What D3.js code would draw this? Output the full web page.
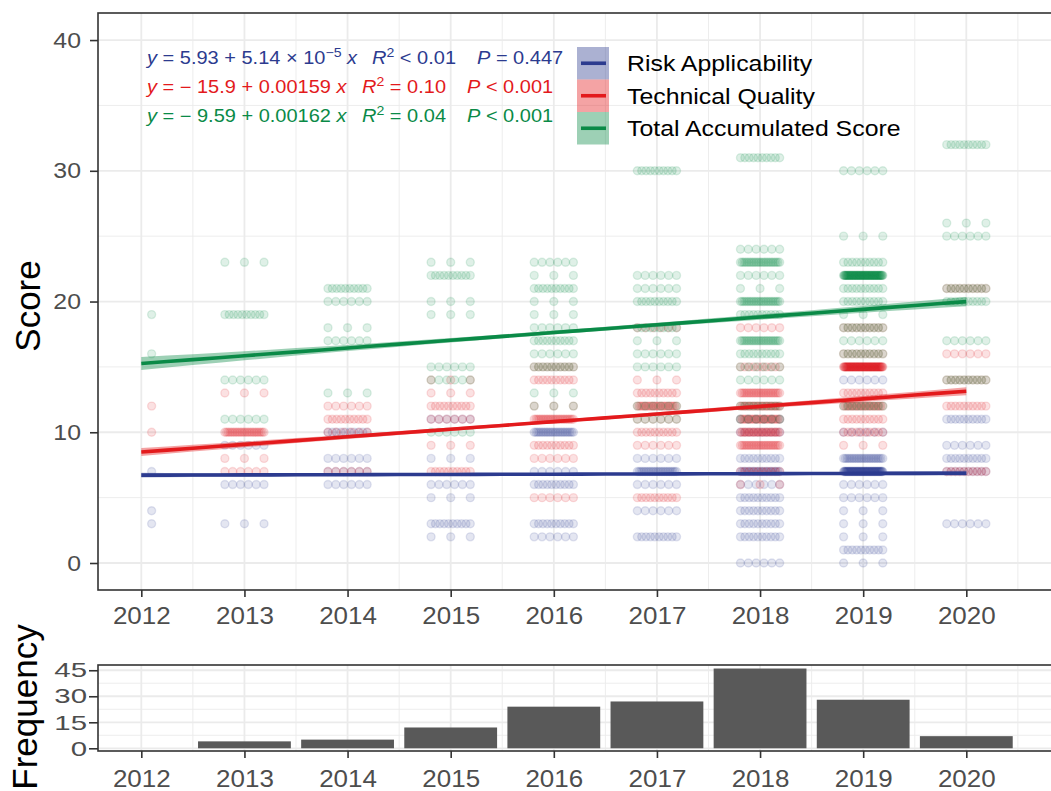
<!DOCTYPE html>
<html><head><meta charset="utf-8">
<script src="https://cdn.jsdelivr.net/npm/d3@7"></script>
<style>
body{margin:0;background:#fff}
text{font-family:"Liberation Sans",Arial,Helvetica,sans-serif}
</style></head>
<body><svg id="c" width="1051" height="791"></svg>
<script>
// ---------------- data ----------------
const years = [2012,2013,2014,2015,2016,2017,2018,2019,2020];
const frequency = [0,4,5,12,24,27,46,28,7];
const scoreTicks = [0,10,20,30,40];
const freqTicks = [0,15,30,45];
const seriesNames = ["Risk Applicability","Technical Quality","Total Accumulated Score"];
const seriesColors = ["#2C3B8F","#E31A1C","#0A8A47"];
const intercepts = [5.93,-15.9,-9.59];
const slopes = [5.14e-5,0.00159,0.00162];   // per day since 1970-01-01
const ribbonHalf = [[0.18,0.07,0.18],[0.3,0.12,0.3],[0.5,0.15,0.35]]; // at 2012, 2016, 2020
const eqIntercept = ["5.93","\u2212 15.9","\u2212 9.59"];
const eqSlope = ["5.14 \u00d7 10","0.00159","0.00162"];
const eqSlopeExp = ["\u22125","",""];
const eqR2 = ["< 0.01","= 0.10","= 0.04"];
const eqP = ["= 0.447","< 0.001","< 0.001"];
// rows of points: [year, score, number of points in the row]
const riskRows = [
 [2012,7,1],[2012,4,1],[2012,3,1],
 [2013,9,6],[2013,6,6],[2013,3,3],
 [2014,10,10],[2014,8,6],[2014,7,6],[2014,6,6],
 [2015,11,6],[2015,8,3],[2015,6,6],[2015,5,3],[2015,3,10],[2015,2,3],
 [2016,10,24],[2016,7,6],[2016,6,10],[2016,3,10],[2016,2,6],
 [2017,8,6],[2017,7,24],[2017,6,6],[2017,4,6],[2017,2,10],
 [2018,11,6],[2018,10,10],[2018,8,10],[2018,7,24],[2018,6,6],[2018,5,10],[2018,4,10],[2018,3,10],[2018,2,10],[2018,0,6],
 [2019,14,6],[2019,10,6],[2019,8,24],[2019,7,70],[2019,6,6],[2019,5,6],[2019,4,3],[2019,3,3],[2019,2,3],[2019,1,10],[2019,0,3],
 [2020,11,10],[2020,9,6],[2020,8,10],[2020,7,10],[2020,3,6]
];
const techRows = [
 [2012,12,1],[2012,10,1],
 [2013,13,3],[2013,10,24],[2013,8,3],[2013,7,6],
 [2014,12,6],[2014,11,10],[2014,10,6],[2014,7,6],
 [2015,14,3],[2015,13,3],[2015,12,10],[2015,11,6],[2015,9,3],[2015,7,10],
 [2016,15,10],[2016,14,10],[2016,12,3],[2016,11,24],[2016,9,10],[2016,8,6],[2016,5,6],
 [2017,18,6],[2017,14,3],[2017,13,10],[2017,12,24],[2017,11,6],[2017,10,10],[2017,9,6],[2017,5,10],
 [2018,18,6],[2018,15,10],[2018,13,24],[2018,12,24],[2018,11,24],[2018,10,24],[2018,9,24],[2018,7,10],[2018,6,3],
 [2019,18,10],[2019,16,10],[2019,15,70],[2019,13,10],[2019,12,24],[2019,11,10],[2019,10,10],[2019,9,3],
 [2020,21,10],[2020,16,6],[2020,14,10],[2020,12,10],[2020,7,10]
];
const totalRows = [
 [2012,19,1],[2012,16,1],
 [2013,23,3],[2013,19,10],[2013,14,6],[2013,11,6],
 [2014,21,10],[2014,20,6],[2014,18,3],[2014,17,6],[2014,13,3],
 [2015,23,3],[2015,22,10],[2015,20,3],[2015,19,3],[2015,15,6],[2015,14,6],[2015,10,6],
 [2016,23,6],[2016,22,3],[2016,21,10],[2016,20,3],[2016,19,3],[2016,18,6],[2016,17,10],[2016,16,6],[2016,15,10],[2016,13,3],[2016,12,3],
 [2017,30,10],[2017,22,6],[2017,21,6],[2017,20,10],[2017,18,10],[2017,17,3],[2017,16,6],[2017,15,6],[2017,12,6],[2017,11,6],
 [2018,31,10],[2018,24,6],[2018,23,24],[2018,22,6],[2018,21,3],[2018,20,24],[2018,19,10],[2018,17,24],[2018,16,10],[2018,15,6],[2018,14,6],[2018,12,10],[2018,11,6],
 [2019,30,6],[2019,25,3],[2019,23,10],[2019,22,70],[2019,21,10],[2019,20,10],[2019,19,3],[2019,18,10],[2019,17,6],[2019,16,10],[2019,12,10],
 [2020,32,10],[2020,26,3],[2020,25,6],[2020,21,10],[2020,20,10],[2020,17,6],[2020,14,10]
];
const allRows = [riskRows, techRows, totalRows];

// ---------------- layout ----------------
const svg = d3.select("#c");
const TX = 1.13; // horizontal text stretch
const left = 98, right = 98 + 9.37*103.125;
const top1 = 13, bot1 = 590, top2 = 665, bot2 = 751;
const x = d3.scaleLinear().domain([2011.58, 2020.95]).range([left, right]);
const y = d3.scaleLinear().domain([-2.065, 42.07]).range([bot1, top1]);
const yf = d3.scaleLinear().domain([-1.56, 48.03]).range([bot2, top2]);
const gridCol = "#EBEBEB", axCol = "#333333", labCol = "#4D4D4D";

svg.append("rect").attr("width",1051).attr("height",791).attr("fill","#fff");
const defs = svg.append("defs");
defs.append("clipPath").attr("id","clip1").append("rect")
  .attr("x",left).attr("y",top1).attr("width",right-left).attr("height",bot1-top1);
defs.append("clipPath").attr("id","clip2").append("rect")
  .attr("x",left).attr("y",top2).attr("width",right-left).attr("height",bot2-top2);

function grids(g, ys, yMajor, yMinor, t, b){
  const xMinor = years.map(v=>v+0.5);
  g.selectAll(".xm").data(xMinor).join("line").attr("x1",d=>x(d)).attr("x2",d=>x(d))
    .attr("y1",t).attr("y2",b).attr("stroke",gridCol).attr("stroke-width",0.9);
  g.selectAll(".ym").data(yMinor).join("line").attr("class","ymn").attr("x1",left).attr("x2",right)
    .attr("y1",d=>ys(d)).attr("y2",d=>ys(d)).attr("stroke",gridCol).attr("stroke-width",0.9);
  g.selectAll(".xM").data(years).join("line").attr("class","xM").attr("x1",d=>x(d)).attr("x2",d=>x(d))
    .attr("y1",t).attr("y2",b).attr("stroke",gridCol).attr("stroke-width",1.8);
  g.selectAll(".yM").data(yMajor).join("line").attr("class","yM").attr("x1",left).attr("x2",right)
    .attr("y1",d=>ys(d)).attr("y2",d=>ys(d)).attr("stroke",gridCol).attr("stroke-width",1.8);
}

// ---------------- top panel ----------------
const p1 = svg.append("g").attr("clip-path","url(#clip1)");
grids(p1.append("g"), y, scoreTicks, [5,15,25,35], top1, bot1);

function offsets(n){ return n===1 ? [0.1] : d3.range(n).map(i => -0.19 + 0.38*i/(n-1)); }
allRows.forEach((rows, si) => {
  const pts = [];
  rows.forEach(([yr, sc, n]) => offsets(n).forEach(o => pts.push([yr+o, sc])));
  p1.append("g").selectAll("circle").data(pts).join("circle")
    .attr("cx",d=>x(d[0])).attr("cy",d=>y(d[1])).attr("r",4)
    .attr("fill",seriesColors[si]).attr("fill-opacity",0.13)
    .attr("stroke",seriesColors[si]).attr("stroke-opacity",0.13).attr("stroke-width",1.4);
});

// regression lines with ribbons
const dayOf = yr => Date.UTC(Math.floor(yr),0,1)/86400000 + (yr-Math.floor(yr))*365.25;
const lineYears = d3.range(2012, 2020.001, 0.25);
seriesNames.forEach((nm, si) => {
  const [h0,hm,h1] = ribbonHalf[si];
  const pts = lineYears.map(t => {
    const v = intercepts[si] + slopes[si]*dayOf(t);
    const u = (t-2016)/4;
    const h = hm + ((u<0?h0:h1)-hm)*u*u;
    return {t, v, lo:v-h, hi:v+h};
  });
  p1.append("path").datum(pts)
    .attr("d", d3.area().x(d=>x(d.t)).y0(d=>y(d.lo)).y1(d=>y(d.hi)))
    .attr("fill",seriesColors[si]).attr("fill-opacity",0.4);
  p1.append("path").datum(pts)
    .attr("d", d3.line().x(d=>x(d.t)).y(d=>y(d.v)))
    .attr("fill","none").attr("stroke",seriesColors[si]).attr("stroke-width",3.6);
});

// equations
const eqBase = [64, 93, 122];
const eqRx = [372, 362, 362], eqPx = [477, 467, 467];
const fs = 17.7;
seriesNames.forEach((nm, si) => {
  const col = seriesColors[si];
  const t1 = svg.append("text").attr("transform",`translate(147,${eqBase[si]}) scale(${TX},1)`)
    .attr("fill",col).attr("font-size",fs);
  t1.append("tspan").attr("font-style","italic").text("y");
  t1.append("tspan").text(" = " + eqIntercept[si] + " + " + eqSlope[si]);
  if (eqSlopeExp[si]) t1.append("tspan").attr("font-size",12.5).attr("dy",-7).text(eqSlopeExp[si]);
  t1.append("tspan").attr("dy", eqSlopeExp[si] ? 7 : 0).attr("font-style","italic").text(" x");
  const t2 = svg.append("text").attr("transform",`translate(${eqRx[si]},${eqBase[si]}) scale(${TX},1)`)
    .attr("fill",col).attr("font-size",fs);
  t2.append("tspan").attr("font-style","italic").text("R");
  t2.append("tspan").attr("font-size",12.5).attr("dy",-7).text("2");
  t2.append("tspan").attr("dy",7).text(" " + eqR2[si]);
  const t3 = svg.append("text").attr("transform",`translate(${eqPx[si]},${eqBase[si]}) scale(${TX},1)`)
    .attr("fill",col).attr("font-size",fs);
  t3.append("tspan").attr("font-style","italic").text("P");
  t3.append("tspan").text(" " + eqP[si]);
});

// legend
const lg = svg.append("g");
const keyTop = 47, keyH = 32.5;
seriesNames.forEach((nm, si) => {
  const cy = keyTop + keyH*si + keyH/2;
  lg.append("rect").attr("x",577).attr("y",keyTop+keyH*si).attr("width",32).attr("height",keyH)
    .attr("fill",seriesColors[si]).attr("fill-opacity",0.4);
  lg.append("line").attr("x1",581).attr("x2",606).attr("y1",cy).attr("y2",cy)
    .attr("stroke",seriesColors[si]).attr("stroke-width",3.6);
  lg.append("text").attr("transform",`translate(627,${cy+8}) scale(${TX},1)`)
    .attr("font-size",22).attr("fill","#000").text(nm);
});

// panel border 1
svg.append("rect").attr("x",left).attr("y",top1).attr("width",right-left).attr("height",bot1-top1)
  .attr("fill","none").attr("stroke",axCol).attr("stroke-width",1.6);

// axes 1
function styleAxis(g){
  g.select(".domain").remove();
  g.selectAll(".tick line").attr("stroke",axCol).attr("stroke-width",1.6);
  g.selectAll(".tick text").attr("fill",labCol).attr("font-family",null);
}
const ax1 = svg.append("g").attr("transform",`translate(0,${bot1})`)
  .call(d3.axisBottom(x).tickValues(years).tickFormat(d3.format("d")).tickSize(7).tickPadding(11));
styleAxis(ax1);
ax1.selectAll(".tick text").attr("font-size",23).attr("transform",`scale(${TX},1)`);
const ay1 = svg.append("g").attr("transform",`translate(${left},0)`)
  .call(d3.axisLeft(y).tickValues(scoreTicks).tickSize(8));
styleAxis(ay1);
ay1.selectAll(".tick text").attr("font-size",22).attr("x",0).attr("transform",`translate(-17,0) scale(${TX},1)`);
svg.append("text").attr("transform","translate(40,306) rotate(-90)").attr("text-anchor","middle")
  .attr("font-size",35).attr("fill","#000").text("Score");

// ---------------- bottom panel ----------------
const p2 = svg.append("g").attr("clip-path","url(#clip2)");
grids(p2.append("g"), yf, freqTicks, [7.5,22.5,37.5], top2, bot2);
p2.append("g").selectAll("rect").data(years.map((yr,i)=>({yr, n:frequency[i]}))).join("rect")
  .attr("x",d=>x(d.yr-0.45)).attr("width",d=>x(d.yr+0.45)-x(d.yr-0.45))
  .attr("y",d=>yf(d.n)).attr("height",d=>yf(0)-yf(d.n)).attr("fill","#595959");
svg.append("rect").attr("x",left).attr("y",top2).attr("width",right-left).attr("height",bot2-top2)
  .attr("fill","none").attr("stroke",axCol).attr("stroke-width",1.6);
const ax2 = svg.append("g").attr("transform",`translate(0,${bot2})`)
  .call(d3.axisBottom(x).tickValues(years).tickFormat(d3.format("d")).tickSize(7).tickPadding(13));
styleAxis(ax2);
ax2.selectAll(".tick text").attr("font-size",23).attr("transform",`scale(${TX},1)`);
const ay2 = svg.append("g").attr("transform",`translate(${left},0)`)
  .call(d3.axisLeft(yf).tickValues(freqTicks).tickSize(9));
styleAxis(ay2);
ay2.selectAll(".tick text").attr("font-size",21).attr("x",0).attr("transform","translate(-11,0) scale(1.4,1)");
svg.append("text").attr("transform","translate(37,707) rotate(-90)").attr("text-anchor","middle")
  .attr("font-size",35).attr("fill","#000").text("Frequency");
</script></body></html>
